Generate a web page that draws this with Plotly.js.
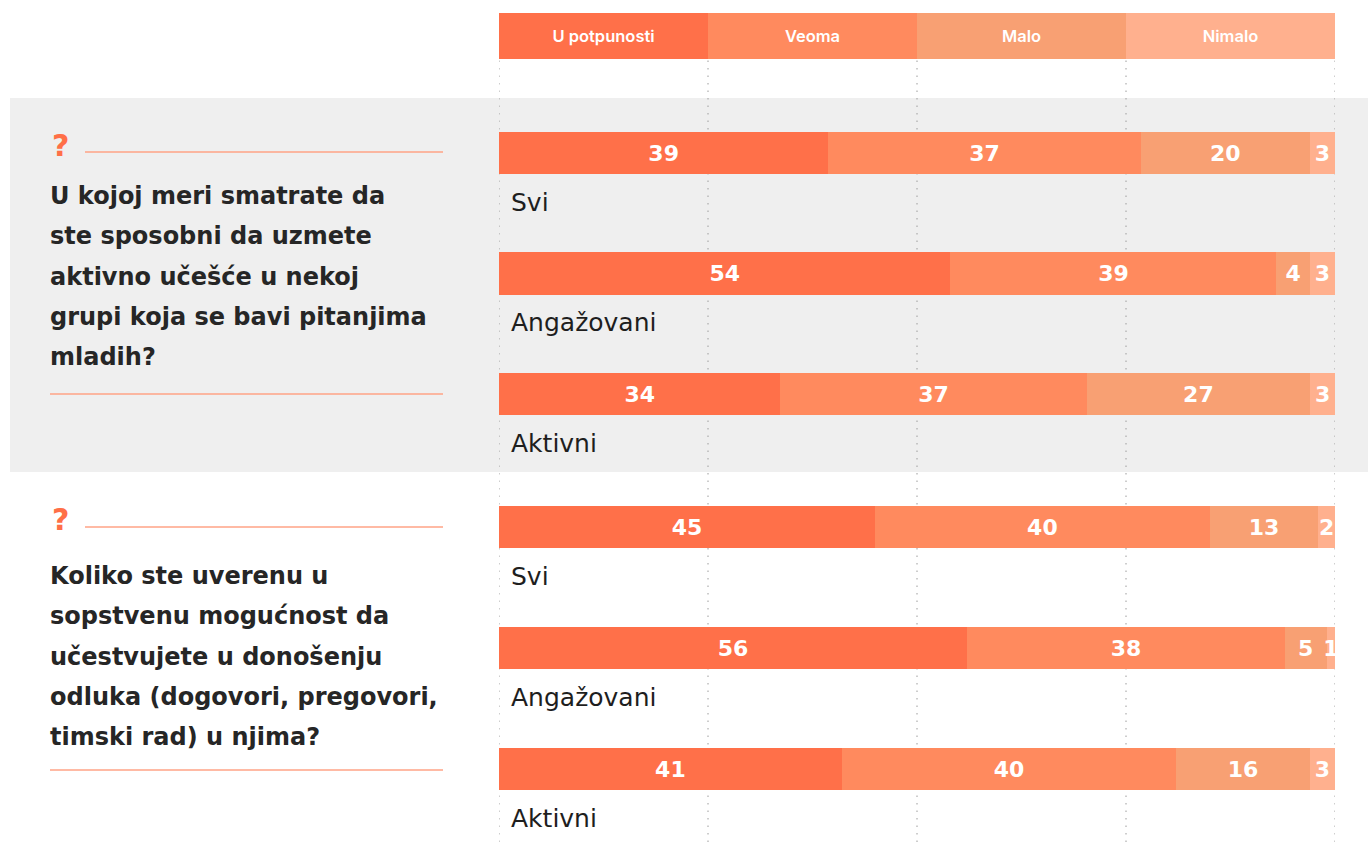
<!DOCTYPE html>
<html>
<head>
<meta charset="utf-8">
<script src="https://cdn.plot.ly/plotly-3.0.1.min.js"></script>
<style>
  html, body { margin: 0; padding: 0; background: #ffffff; }
  #chart { width: 1368px; height: 842px; }
</style>
</head>
<body>
<div id="chart"></div>
<script>
// ---------- DATA ----------
const groups = ['Svi', 'Angažovani', 'Aktivni'];
const answers = ['U potpunosti', 'Veoma', 'Malo', 'Nimalo'];

const q1UPotpunosti = [39, 54, 34];
const q1Veoma       = [37, 39, 37];
const q1Malo        = [20, 4, 27];
const q1Nimalo      = [3, 3, 3];

const q2UPotpunosti = [45, 56, 41];
const q2Veoma       = [40, 38, 40];
const q2Malo        = [13, 5, 16];
const q2Nimalo      = [2, 1, 3];

const question1Lines = ['U kojoj meri smatrate da', 'ste sposobni da uzmete', 'aktivno učešće u nekoj', 'grupi koja se bavi pitanjima', 'mladih?'];
const question2Lines = ['Koliko ste uverenu u', 'sopstvenu mogućnost da', 'učestvujete u donošenju', 'odluka (dogovori, pregovori,', 'timski rad) u njima?'];

// header row: each answer gets an equal cell
const headerCellShare = [1, 1, 1, 1];

// percent-axis ticks used for the dotted guides
const gridTicks = [0, 25, 50, 75, 100];

// ---------- STYLE ----------
const W = 1368, H = 842;
const colors = ['#ff7049', '#ff8a5e', '#f8a073', '#ffb08e'];
const WIDE = '"DejaVu Sans", Verdana, sans-serif';
const HEAD = 'Inter, "Noto Sans", sans-serif';
const py = px => 1 - px / H;   // pixel-from-top -> paper
const pxx = px => px / W;

const q1Series = [q1UPotpunosti, q1Veoma, q1Malo, q1Nimalo];
const q2Series = [q2UPotpunosti, q2Veoma, q2Malo, q2Nimalo];

const traces = [];
function addPanel(series, yaxis) {
  series.forEach((vals, i) => {
    traces.push({
      type: 'bar', orientation: 'h',
      x: vals, y: groups, xaxis: 'x', yaxis: yaxis,
      name: answers[i], width: 0.35,
      marker: { color: colors[i], line: { width: 0 } },
      text: vals.map(String), textposition: 'inside', insidetextanchor: 'middle',
      constraintext: 'none', textangle: 0, cliponaxis: false,
      textfont: { color: '#ffffff', size: 22, family: WIDE, weight: 700 },
      hoverinfo: 'skip', showlegend: false
    });
  });
}
addPanel(q1Series, 'y');
addPanel(q2Series, 'y2');

// header cells
answers.forEach((a, i) => {
  traces.push({
    type: 'bar', orientation: 'h',
    x: [headerCellShare[i]], y: ['header'], xaxis: 'x', yaxis: 'y3',
    width: 1, name: a,
    marker: { color: colors[i], line: { width: 0 } },
    text: [a], textposition: 'inside', insidetextanchor: 'middle',
    constraintext: 'none', textangle: 0,
    textfont: { color: '#ffffff', size: 16.5, family: HEAD, weight: 600 },
    hoverinfo: 'skip', showlegend: false
  });
});

const catAxis = (top, bottom) => ({
  type: 'category', categoryorder: 'array', categoryarray: groups,
  range: [2.5, -0.5], domain: [py(bottom), py(top)],
  showticklabels: false, showgrid: false, zeroline: false, showline: false, ticks: '', fixedrange: true
});

const shapes = [
  // grey panel behind question 1
  { type: 'rect', xref: 'paper', yref: 'paper', x0: pxx(10), x1: 1, y0: py(472), y1: py(98),
    fillcolor: '#efefef', line: { width: 0 }, layer: 'below' },
];
// dotted vertical guides
gridTicks.forEach(t => {
  shapes.push({ type: 'line', xref: 'x', yref: 'paper', x0: t, x1: t, y0: 0, y1: py(60),
    line: { color: '#9c9c9c', width: 1, dash: '1.5px,6px' }, layer: 'below' });
});

const annotations = [];

function addQuestion(lines, qTop, ruleY, firstLineY, bottomRuleY) {
  annotations.push({ xref: 'paper', yref: 'paper', x: pxx(50), y: py(qTop), xanchor: 'left', yanchor: 'middle',
    text: '?', showarrow: false, font: { family: WIDE, size: 30, color: '#ff6f47', weight: 700 } });
  shapes.push({ type: 'line', xref: 'paper', yref: 'paper', x0: pxx(85), x1: pxx(443), y0: py(ruleY), y1: py(ruleY),
    line: { color: '#ffa386', width: 1.5 } });
  shapes.push({ type: 'line', xref: 'paper', yref: 'paper', x0: pxx(50), x1: pxx(443), y0: py(bottomRuleY), y1: py(bottomRuleY),
    line: { color: '#ffa386', width: 1.5 } });
  lines.forEach((t, i) => {
    annotations.push({ xref: 'paper', yref: 'paper', x: pxx(48), y: py(firstLineY + i * 40.3), xanchor: 'left', yanchor: 'middle',
      text: t, showarrow: false, font: { family: WIDE, size: 24, color: '#262626', weight: 700 } });
  });
}
addQuestion(question1Lines, 145, 152, 196, 394);
addQuestion(question2Lines, 519, 527, 576, 770);

function addGroupLabels(yref) {
  groups.forEach(g => {
    annotations.push({ xref: 'x', yref: yref, x: 0, y: g, xanchor: 'left', yanchor: 'middle',
      xshift: 10, yshift: -49, text: g, showarrow: false,
      font: { family: WIDE, size: 25, color: '#1e1e1e', weight: 400 } });
  });
}
addGroupLabels('y');
addGroupLabels('y2');

const layout = {
  width: W, height: H,
  margin: { l: 0, r: 0, t: 0, b: 0, pad: 0 },
  paper_bgcolor: '#ffffff', plot_bgcolor: 'rgba(0,0,0,0)',
  barmode: 'stack', barnorm: 'percent',
  showlegend: false,
  font: { family: WIDE },
  xaxis: {
    domain: [pxx(499), pxx(1335)], range: [0, 100],
    showticklabels: false, ticks: '', showgrid: false,
    zeroline: false, showline: false, fixedrange: true
  },
  yaxis: catAxis(92.75, 454.25),
  yaxis2: catAxis(466.5, 829.5),
  yaxis3: { type: 'category', range: [-0.5, 0.5], domain: [py(59), py(13)], showticklabels: false,
            showgrid: false, zeroline: false, ticks: '', fixedrange: true },
  shapes: shapes,
  annotations: annotations
};

Plotly.newPlot('chart', traces, layout, { staticPlot: true, displayModeBar: false });
</script>
</body>
</html>
